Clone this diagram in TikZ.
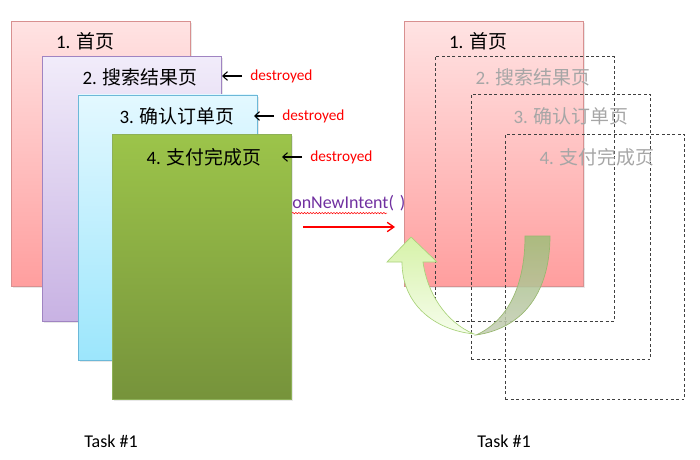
\documentclass[tikz,border=0pt]{standalone}
\usepackage{fontspec}
\setmainfont{Carlito}
\newfontfamily\cjk{Noto Sans CJK SC}
\usetikzlibrary{arrows.meta,shadows,decorations.pathmorphing}
\definecolor{pinkT}{HTML}{FFE3E3}
\definecolor{pinkB}{HTML}{FF9E9E}
\definecolor{pinkD}{HTML}{D89090}
\definecolor{purT}{HTML}{F1ECFA}
\definecolor{purB}{HTML}{C8B2E3}
\definecolor{purD}{HTML}{A084C2}
\definecolor{cyaT}{HTML}{E3F8FF}
\definecolor{cyaB}{HTML}{9CE6FC}
\definecolor{cyaD}{HTML}{6CB8D8}
\definecolor{grnT}{HTML}{9CC44A}
\definecolor{grnB}{HTML}{76933B}
\definecolor{grnD}{HTML}{8DB057}
\definecolor{gtext}{HTML}{A6A6A6}
\definecolor{purtext}{HTML}{7030A0}
\definecolor{dashc}{HTML}{404040}
\definecolor{rpT}{HTML}{9DBE78}
\definecolor{rpB}{HTML}{C4CCB4}
\definecolor{rpD}{HTML}{98B870}
\definecolor{lpT}{HTML}{D6F2A8}
\definecolor{lpB}{HTML}{F6FDEC}
\definecolor{lpD}{HTML}{A9D27A}
\begin{document}
\begin{tikzpicture}[x=0.75pt,y=-0.75pt,
  card/.style={line width=0.6pt, minimum width=134.25pt, minimum height=198.75pt, inner sep=0pt,
    drop shadow={opacity=0.18,shadow xshift=1.2pt,shadow yshift=-1.2pt}},
  pinkcard/.style={card, draw=pinkD, top color=pinkT, bottom color=pinkB},
  purcard/.style={card, draw=purD, top color=purT, bottom color=purB},
  cyacard/.style={card, draw=cyaD, top color=cyaT, bottom color=cyaB},
  grncard/.style={card, draw=grnD, top color=grnT, bottom color=grnB},
  ghost/.style={draw=dashc, line width=0.6pt, dash pattern=on 2.2pt off 1.8pt,
    minimum width=134.25pt, minimum height=198.75pt, inner sep=0pt},
  title/.style={inner sep=0pt, font=\fontsize{14.2}{16}\selectfont},
  gtitle/.style={title, text=gtext},
  destr/.style={inner sep=0pt, anchor=west, text=red, font=\fontsize{11.5}{13}\selectfont},
  barb/.style={-{Straight Barb[length=3.5pt,width=6.5pt]}, line width=0.8pt, black},
  redarrow/.style={-{Straight Barb[length=5pt,width=7pt]}, line width=1pt, red},
  tasklabel/.style={inner sep=0pt, font=\fontsize{13.5}{15}\selectfont}
]
\useasboundingbox (0,0) rectangle (700,460);

% ---------- left stack ----------
\node[pinkcard] (b1) at (101,154) {};
\node[purcard]  (b2) at (131.5,189) {};
\node[cyacard]  (b3) at (167.5,227.5) {};
\node[grncard]  (b4) at (202,267) {};

\node[title] (t1) at (85,41)  {1. {\cjk 首页}};
\node[title] (t2) at (140,77) {2. {\cjk 搜索结果页}};
\node[title] (t3) at (177,116) {3. {\cjk 确认订单页}};
\node[title] (t4) at (204,157) {4. {\cjk 支付完成页}};

\node[destr] (d1) at (250,76)  {destroyed};
\node[destr] (d2) at (282,116) {destroyed};
\node[destr] (d3) at (310,157) {destroyed};
\coordinate (e1) at (222,76);
\coordinate (e2) at (254,116);
\coordinate (e3) at (282,157);
\draw[barb, shorten <=6pt] (d1.west) -- (e1);
\draw[barb, shorten <=6pt] (d2.west) -- (e2);
\draw[barb, shorten <=6pt] (d3.west) -- (e3);

\node[inner sep=0pt, anchor=west, text=purtext, font=\fontsize{13.5}{15}\selectfont] (oni) at (292,203) {onNewIntent(\,\,)};
\draw[red, line width=0.4pt, decorate, decoration={snake, amplitude=0.5pt, segment length=2.2pt}]
  ([yshift=-1.5pt]oni.south west) -- ([xshift=-14pt,yshift=-1.5pt]oni.south east);
\coordinate (ra) at (303,227);
\coordinate (rb) at (395,227);
\draw[redarrow] (ra) -- (rb);

\node[tasklabel] (task1) at (111,441) {Task \#1};

% ---------- right stack ----------
\node[pinkcard] (r1) at (493.5,154) {};
\node[ghost] (r2) at (524.5,189) {};
\node[ghost] (r3) at (561,227) {};
\node[ghost] (r4) at (595,267) {};

\node[title]  (s1) at (478,41)  {1. {\cjk 首页}};
\node[gtitle] (s2) at (533,77)  {2. {\cjk 搜索结果页}};
\node[gtitle] (s3) at (571,116) {3. {\cjk 确认订单页}};
\node[gtitle] (s4) at (597,157) {4. {\cjk 支付完成页}};

\node[tasklabel] (task2) at (504,441) {Task \#1};

% ---------- curved return arrow ----------
\path[draw=rpD, line width=0.5pt, top color=rpT, bottom color=rpB, fill opacity=0.85]
  (525,236) -- (550,236) .. controls (550,290) and (525,328) .. (476,335)
  .. controls (505,322) and (525,290) .. (525,236) -- cycle;
\path[draw=lpD, line width=0.5pt, top color=lpT, bottom color=lpB]
  (411,237) -- (437,262) -- (423,262) .. controls (427,292) and (445,322) .. (474,334)
  .. controls (435,330) and (402,305) .. (402,262) -- (387,262) -- cycle;
\end{tikzpicture}
\end{document}
